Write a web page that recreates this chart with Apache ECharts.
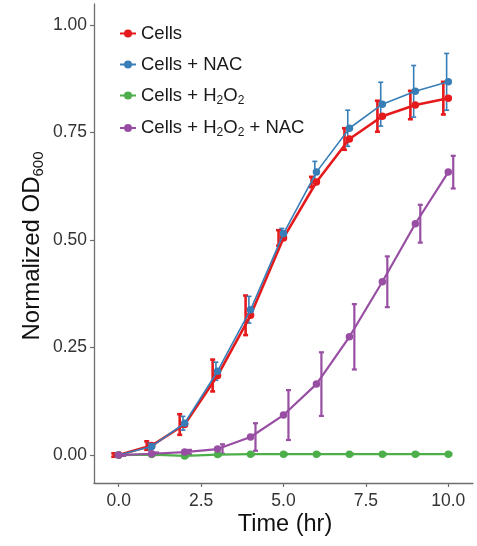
<!DOCTYPE html>
<html><head><meta charset="utf-8">
<script src="https://cdn.jsdelivr.net/npm/echarts@6/dist/echarts.min.js"></script>
<style>html,body{margin:0;padding:0;background:#fff}#c{width:477px;height:546px}</style>
</head><body><div id="c"></div>
<script>
// ---- data ----
const timeHr = [0, 1, 2, 3, 4, 5, 6, 7, 8, 9, 10];
const cells = [0, 0.022, 0.071, 0.185, 0.325, 0.505, 0.635, 0.735, 0.788, 0.814, 0.83];
const cellsErr = [0.004, 0.01, 0.024, 0.037, 0.046, 0.018, 0.012, 0.025, 0.036, 0.033, 0.038];
const cellsNac = [0, 0.02, 0.074, 0.195, 0.338, 0.515, 0.658, 0.76, 0.816, 0.846, 0.868];
const cellsNacErr = [0.003, 0.008, 0.016, 0.021, 0.031, 0.012, 0.025, 0.042, 0.051, 0.06, 0.066];
const cellsH2o2 = [0, 0.001, -0.002, 0.001, 0.002, 0.002, 0.002, 0.002, 0.002, 0.002, 0.002];
const cellsH2o2Err = [0.001, 0.001, 0.002, 0.002, 0.002, 0.002, 0.002, 0.002, 0.002, 0.002, 0.002];
const cellsH2o2Nac = [0, 0.003, 0.007, 0.014, 0.042, 0.093, 0.165, 0.275, 0.403, 0.538, 0.658];
const cellsH2o2NacErr = [0.002, 0.003, 0.005, 0.011, 0.032, 0.058, 0.074, 0.076, 0.059, 0.044, 0.038];
const xTicks = [0, 2.5, 5, 7.5, 10];
const yTicks = [0, 0.25, 0.5, 0.75, 1];
const seriesNames = ['Cells', 'Cells + NAC', 'Cells + H2O2', 'Cells + H2O2 + NAC'];
const legendLabels = {
  'Cells': '{a|Cells}',
  'Cells + NAC': '{a|Cells + NAC}',
  'Cells + H2O2': '{a|Cells + H}{s|2}{a|O}{s|2}',
  'Cells + H2O2 + NAC': '{a|Cells + H}{s|2}{a|O}{s|2}{a| + NAC}'
};

// ---- styling ----
const colors = ['#E41A1C', '#377EB8', '#4DAF4A', '#984EA3'];
const lineWidths = [2.6, 1.6, 2.2, 2.2];
const dodge = [-0.15, -0.05, 0.05, 0.15];
const FONT = 'Liberation Sans, Arial, Helvetica, sans-serif';
const AXIS_COLOR = '#6e6e6e';

const means = [cells, cellsNac, cellsH2o2, cellsH2o2Nac];
const errs = [cellsErr, cellsNacErr, cellsH2o2Err, cellsH2o2NacErr];

const series = [];
means.forEach((m, i) => {
  series.push({
    name: seriesNames[i] + ' err',
    type: 'custom',
    z: 1,
    silent: true,
    data: timeHr.map((t, k) => [t + dodge[i], m[k] - errs[i][k], m[k] + errs[i][k]]),
    encode: { x: 0, y: [1, 2] },
    renderItem: function (params, api) {
      const lo = api.coord([api.value(0), api.value(1)]);
      const hi = api.coord([api.value(0), api.value(2)]);
      const cw = 2.5;
      const st = { stroke: colors[i], lineWidth: lineWidths[i] };
      return {
        type: 'group',
        children: [
          { type: 'line', shape: { x1: lo[0], y1: lo[1], x2: hi[0], y2: hi[1] }, style: st },
          { type: 'line', shape: { x1: lo[0] - cw, y1: lo[1], x2: lo[0] + cw, y2: lo[1] }, style: st },
          { type: 'line', shape: { x1: hi[0] - cw, y1: hi[1], x2: hi[0] + cw, y2: hi[1] }, style: st }
        ]
      };
    }
  });
});
means.forEach((m, i) => {
  series.push({
    name: seriesNames[i],
    type: 'line',
    z: 2 + i,
    data: timeHr.map((t, k) => [t, m[k]]),
    symbol: 'circle',
    symbolSize: 7.5,
    showSymbol: true,
    lineStyle: { color: colors[i], width: lineWidths[i] },
    itemStyle: { color: colors[i] },
    emphasis: { disabled: true },
    animation: false
  });
});

const chart = echarts.init(document.getElementById('c'), null, { renderer: 'canvas' });
chart.setOption({
  animation: false,
  backgroundColor: '#fff',
  color: colors,
  grid: { left: 94, right: 4, top: 4, bottom: 63, containLabel: false, outerBoundsMode: 'none' },
  legend: {
    data: seriesNames,
    orient: 'vertical',
    left: 119,
    top: 24,
    padding: 0,
    itemWidth: 16,
    itemHeight: 10,
    itemGap: 12,
    formatter: n => legendLabels[n],
    textStyle: {
      rich: {
        a: { fontSize: 18.5, fontFamily: FONT, color: '#1a1a1a', lineHeight: 22 },
        s: { fontSize: 12, fontFamily: FONT, color: '#1a1a1a', lineHeight: 8, verticalAlign: 'bottom' }
      }
    }
  },
  xAxis: {
    type: 'value',
    min: -0.75,
    max: 10.75,
    splitLine: { show: false },
    axisLine: { show: true, onZero: false, lineStyle: { color: AXIS_COLOR, width: 1.3 } },
    axisTick: { show: true, length: 4, customValues: xTicks, lineStyle: { color: AXIS_COLOR, width: 1.2 } },
    axisLabel: {
      customValues: xTicks,
      formatter: v => v.toFixed(1),
      fontSize: 17.5, fontFamily: FONT, color: '#333', margin: 9
    }
  },
  yAxis: {
    type: 'value',
    min: -0.065,
    max: 1.049,
    splitLine: { show: false },
    axisLine: { show: true, onZero: false, lineStyle: { color: AXIS_COLOR, width: 1.3 } },
    axisTick: { show: true, length: 4, customValues: yTicks, lineStyle: { color: AXIS_COLOR, width: 1.2 } },
    axisLabel: {
      customValues: yTicks,
      formatter: v => v.toFixed(2),
      fontSize: 17.5, fontFamily: FONT, color: '#333', margin: 7
    }
  },
  graphic: [
    {
      type: 'text',
      x: 32, y: 246,
      rotation: Math.PI / 2,
      style: {
        text: '{a|Normalized OD}{s|600}',
        align: 'center', verticalAlign: 'middle',
        rich: {
          a: { fontSize: 24, fontFamily: FONT, fill: '#111', lineHeight: 28 },
          s: { fontSize: 15, fontFamily: FONT, fill: '#111', lineHeight: 8, verticalAlign: 'bottom' }
        }
      }
    },
    {
      type: 'text',
      x: 285, y: 525,
      style: {
        text: 'Time (hr)',
        fontSize: 23.5, fontFamily: FONT, fill: '#111',
        align: 'center', verticalAlign: 'middle'
      }
    }
  ],
  series: series
});
</script>
</body></html>
